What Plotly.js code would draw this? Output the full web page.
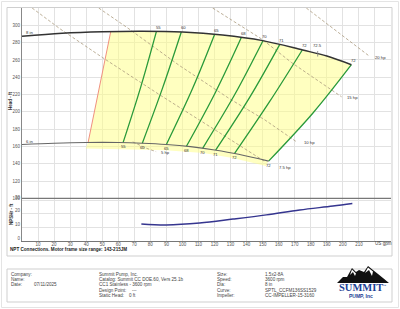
<!DOCTYPE html>
<html><head><meta charset="utf-8">
<script src="https://cdn.plot.ly/plotly-3.0.1.min.js"></script>
<style>html,body{margin:0;padding:0;background:#fff;}#chart{width:400px;height:309px;}</style>
</head><body><div id="chart"></div>
<script>
// ---- axis ticks ----
const flowTicks = [0,10,20,30,40,50,60,70,80,90,100,110,120,130,140,150,160,170,180,190,200,210,220,230];
const flowTickLabels = ['','10','20','30','40','50','60','70','80','90','100','110','120','130','140','150','160','170','180','190','200','210','',''];
const headTicks = [100,120,140,160,180,200,220,240,260,280,300];
const npshTicks = [0,10,20,30];

// ---- impeller curves ----
const dia8Flow = [0,25,50,75,100,125,150,175,190,205.3];
const dia8Head = [287.3,290.8,292.6,293.2,292.3,288.8,282.3,271.4,264.5,254.5];
const dia6Flow = [0,20,40,60,75,90,105,120,135,153.7];
const dia6Head = [162.2,163.7,164.6,164.6,163.8,162.3,159.8,156.0,151.1,143.1];

// ---- efficiency lines ----
const effLabels  = ['55','60','65','68','70','71','72','72'];
const effTopFlow = [83.8,99.3,120.1,136.7,150.2,160.6,174.7,205.3];
const effTopHead = [293.0,292.3,289.6,285.8,282.2,277.7,271.5,254.5];
const effMidFlow = [73.9,87.7,106.1,120.7,132.6,142.0,154.4,181.5];
const effMidHead = [228,228,226,223,220,217,212,199];
const effBotFlow = [63,75,90,102.5,112.6,120.7,132.5,153.7];
const effBotHead = [164.4,163.8,162.3,160.2,157.9,155.8,151.9,143.1];
const bepLabel = '72.5', bepFlow = 184.3, bepHead = 267.1;

// ---- preferred operating region ----
const regionFlow = [55.3,75,100,125,150,175,190,205.3,181.5,153.7,152,131.3,113.2,89.6,62.8,39.7,41.2];
const regionHead = [292.6,293.2,292.3,288.8,282.3,271.4,264.5,254.5,199,143.1,137.5,146.8,152.5,155.6,157.2,157.8,164.6];
const minFlowFlow = [41.2,55.3];
const minFlowHead = [164.6,292.6];

// ---- horsepower lines ----
const hpLabels = ['20 hp','15 hp','10 hp','7.5 hp','5 hp'];
const hpFlows = [
  [177.2,196.7,216.7],
  [118.8,150,168.1,185.5,199.2],
  [47.8,65.6,98.3,129.4,151.3,171.2],
  [6.3,23.5,50.3,85.8,121.3,151.3],
  [69,77.5,83.6]
];
const hpHeads = [
  [320,292.7,264.1],
  [320,283.4,256.8,234.8,217.4],
  [320,297.3,253.3,215.1,190.8,165.3],
  [320,296.2,262.6,219.7,178,142.7],
  [165.3,158,154]
];

// ---- NPSHr ----
const npshFlow = [74.4,90,110.7,131.5,152.3,173.1,193.8,205.9];
const npshReq  = [12.5,11.8,13.2,16.1,19.2,22.8,25.7,27.6];

// ---- footer texts ----
const footCol1 = ['Company:','Name:','Date:'];
const footCol1Val = ['','','07/11/2025'];
const footCol2 = ['Summit Pump, Inc.','Catalog: Summit CC DOE.60, Vers 25.1b','CC1 Stainless - 3600 rpm','Design Point:','Static Head:'];
const footCol2Val = ['','','','---','0 ft'];
const footCol3 = ['Size:','Speed:','Dia:','Curve:','Impeller:'];
const footCol4 = ['1.5x2-8A','3600 rpm','8 in','SPTL_CCFM136SS1529','CC-IMPELLER-15-3160'];

// ---- layout geometry ----
const ML = 22, MR = 9, MT = 8, MB = 68, W = 400, H = 309;
const PW = W - ML - MR, PH = H - MT - MB;
const px = v => (v - ML) / PW;
const py = v => (H - MB - v) / PH;
const headDomLow = py(198.4);

const FONT = 'Liberation Sans, Arial, sans-serif';
const traces = [];

traces.push({x: regionFlow, y: regionHead, type: 'scatter', mode: 'lines', fill: 'toself',
  fillcolor: 'rgba(255,255,130,0.5)', line: {width: 0}, hoverinfo: 'skip', xaxis: 'x', yaxis: 'y'});

hpFlows.forEach((f, i) => traces.push({x: f, y: hpHeads[i], type: 'scatter', mode: 'lines',
  line: {color: '#ab9b7e', width: 0.8, dash: '3px,2px'}, xaxis: 'x', yaxis: 'y'}));

traces.push({x: minFlowFlow, y: minFlowHead, type: 'scatter', mode: 'lines',
  line: {color: '#f09080', width: 1}, xaxis: 'x', yaxis: 'y'});

effLabels.forEach((lab, i) => traces.push({
  x: [effBotFlow[i], effMidFlow[i], effTopFlow[i]], y: [effBotHead[i], effMidHead[i], effTopHead[i]],
  type: 'scatter', mode: 'lines', line: {color: '#2a9a3a', width: 1.3, shape: 'spline'}, xaxis: 'x', yaxis: 'y'}));

traces.push({x: dia6Flow, y: dia6Head, type: 'scatter', mode: 'lines',
  line: {color: '#666', width: 1.1, shape: 'spline'}, xaxis: 'x', yaxis: 'y'});
traces.push({x: dia8Flow, y: dia8Head, type: 'scatter', mode: 'lines',
  line: {color: '#333', width: 1.5, shape: 'spline'}, xaxis: 'x', yaxis: 'y'});
traces.push({x: [bepFlow], y: [bepHead], type: 'scatter', mode: 'markers',
  marker: {symbol: 'line-ns-open', size: 4, line: {color: '#333', width: 0.8}}, xaxis: 'x', yaxis: 'y'});

traces.push({x: npshFlow, y: npshReq, type: 'scatter', mode: 'lines',
  line: {color: '#35358f', width: 1.5, shape: 'spline'}, xaxis: 'x', yaxis: 'y2'});

const ann = [];
const small = (s, c) => ({family: FONT, size: s, color: c || '#333'});
effLabels.forEach((lab, i) => {
  ann.push({x: effTopFlow[i], y: effTopHead[i], xref: 'x', yref: 'y', text: lab, showarrow: false,
    font: small(4.2), yshift: 4, xshift: 2});
  ann.push({x: effBotFlow[i], y: effBotHead[i], xref: 'x', yref: 'y', text: lab, showarrow: false,
    font: small(4.2), yshift: -4, xshift: 0});
});
ann.push({x: bepFlow, y: bepHead, xref: 'x', yref: 'y', text: bepLabel, showarrow: false, font: small(4.2), yshift: 8});
ann.push({x: dia8Flow[0], y: dia8Head[0], xref: 'x', yref: 'y', text: '8 in', showarrow: false, font: small(4.2),
  xanchor: 'left', xshift: 2, yshift: 4});
ann.push({x: dia6Flow[0], y: dia6Head[0], xref: 'x', yref: 'y', text: '6 in', showarrow: false, font: small(4.2),
  xanchor: 'left', xshift: 2, yshift: 3});
const hpShift = [[3,-1],[3,-1],[5,-1],[12,-6],[3,-1]];
hpLabels.forEach((lab, i) => {
  const f = hpFlows[i], h = hpHeads[i];
  ann.push({x: f[f.length-1], y: h[h.length-1], xref: 'x', yref: 'y', text: lab, showarrow: false,
    font: small(4.2), xanchor: 'left', xshift: hpShift[i][0], yshift: hpShift[i][1]});
});
const pap = (x, y, text, font, xa, extra) => ann.push(Object.assign({x: px(x), y: py(y), xref: 'paper', yref: 'paper',
  text: text, showarrow: false, xanchor: xa || 'center', yanchor: 'middle', font: font}, extra || {}));
pap(11, 101, '<b>Head - ft</b>', small(4.5, '#333'), 'center', {textangle: -90});
pap(11, 214, '<b>NPSHr - ft</b>', small(4.5, '#333'), 'center', {textangle: -90});
pap(373, 243.4, 'US gpm', small(4.6, '#444'), 'left');
pap(8, 249, '<b>NPT Connections. Motor frame size range: 143-215JM</b>', small(4.6, '#222'), 'left');

const rows = [274.3, 279.6, 284.9, 290.2, 295.5];
const foot = (x, r, t) => pap(x, rows[r], t, small(4.6, '#444'), 'left');
footCol1.forEach((t, r) => { foot(9, r, t); if (footCol1Val[r]) foot(31.5, r, footCol1Val[r]); });
footCol2.forEach((t, r) => { foot(96.5, r, t); if (footCol2Val[r]) foot(r === 3 ? 130 : 127, r, footCol2Val[r]); });
footCol3.forEach((t, r) => foot(215, r, t));
footCol4.forEach((t, r) => foot(263.3, r, t));

pap(361, 287.5, '<b>SUMMIT</b>', {family: 'Liberation Serif, serif', size: 10.5, color: '#1b3f95'});
pap(384.5, 286, '™', {family: FONT, size: 3.5, color: '#1b3f95'});
pap(361, 296.3, '<b>PUMP, Inc</b>', {family: FONT, size: 5, color: '#1b3f95'});

const path = pts => pts.map((p, i) => (i ? 'L' : 'M') + px(p[0]).toFixed(4) + ',' + py(p[1]).toFixed(4)).join(' ') + ' Z';
const rect = (x0, y0, x1, y1, col) => ({type: 'rect', xref: 'paper', yref: 'paper', x0: px(x0), x1: px(x1),
  y0: py(y0), y1: py(y1), line: {color: col, width: 1}, fillcolor: 'rgba(0,0,0,0)', layer: 'above'});
const shapes = [
  rect(1.5, 1.5, 398.5, 307.5, '#e4e4e4'),
  rect(7, 7.5, 392, 256, '#cfcfcf'),
  rect(7, 269, 392, 302, '#cfcfcf'),
  {type: 'line', xref: 'paper', yref: 'paper', x0: 0, x1: 1, y0: headDomLow, y1: headDomLow,
    line: {color: '#777', width: 1.2}, layer: 'above'},
  {type: 'path', xref: 'paper', yref: 'paper', layer: 'above', line: {width: 0}, fillcolor: '#111',
    path: path([[337,283],[343,277],[347,277],[352,268],[356,272],[359,270],[364,272],[368,266],[373,270],[378,274],[383,278],[389,283]])},
  {type: 'path', xref: 'paper', yref: 'paper', layer: 'above', line: {width: 0}, fillcolor: '#fff',
    path: path([[352,269.5],[350,275],[353,272],[355,276],[356,273.5]])},
  {type: 'path', xref: 'paper', yref: 'paper', layer: 'above', line: {width: 0}, fillcolor: '#fff',
    path: path([[368,267.5],[365,273],[369,270],[372,276],[373,271.5]])}
];

const axCommon = {showgrid: true, gridcolor: '#e2e2e2', gridwidth: 1, zeroline: false, ticks: '',
  tickfont: {family: FONT, size: 4.5, color: '#555'}, fixedrange: true};
const layout = {
  width: W, height: H, margin: {l: ML, r: MR, t: MT, b: MB, pad: 0},
  paper_bgcolor: '#fff', plot_bgcolor: '#fff', showlegend: false,
  xaxis: Object.assign({}, axCommon, {range: [0, 230], tickmode: 'array', tickvals: flowTicks, ticktext: flowTickLabels,
    anchor: 'y2', showline: true, linecolor: '#777', linewidth: 1, ticklabelstandoff: -1}),
  yaxis: Object.assign({}, axCommon, {domain: [headDomLow, 1], range: [100, 320], tickmode: 'array', tickvals: headTicks,
    anchor: 'x', showline: true, linecolor: '#888', linewidth: 1, ticklabelshift: 3.5}),
  yaxis2: Object.assign({}, axCommon, {domain: [0, headDomLow], range: [0, 31.3], tickmode: 'array', tickvals: npshTicks,
    anchor: 'x', showline: true, linecolor: '#888', linewidth: 1, ticklabelshift: -3}),
  annotations: ann, shapes: shapes
};
Plotly.newPlot('chart', traces, layout, {staticPlot: true, displayModeBar: false});
</script></body></html>
